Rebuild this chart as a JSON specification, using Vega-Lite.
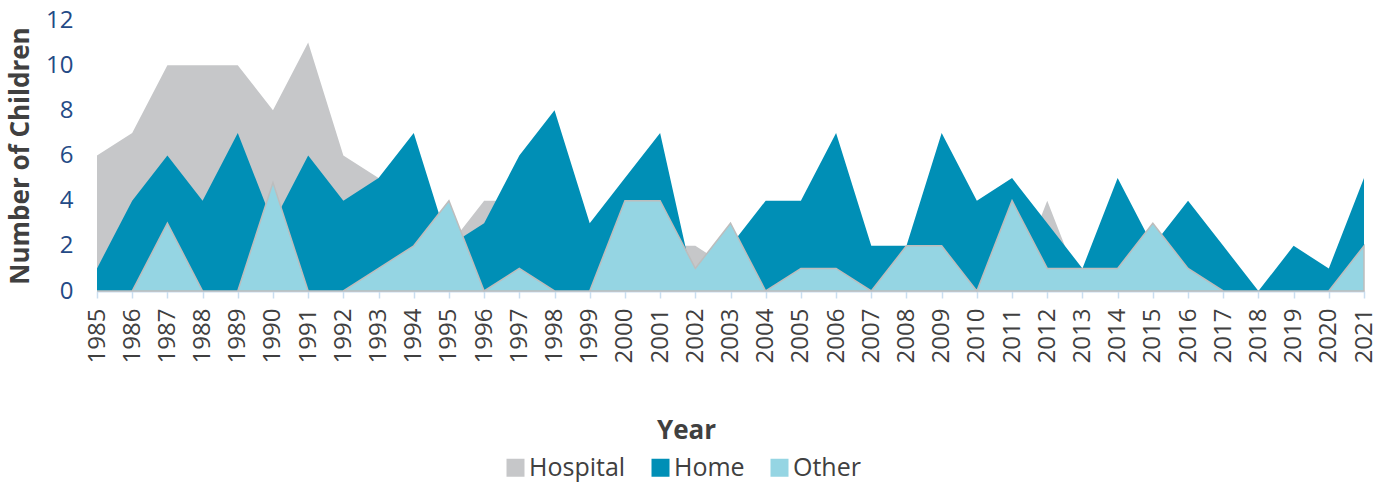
{
  "$schema": "https://vega.github.io/schema/vega-lite/v6.json",
  "autosize": {"type": "none"},
  "width": 1267,
  "height": 271,
  "padding": {"left": 97, "top": 20, "right": 28, "bottom": 193},
  "background": "white",
  "config": {
    "view": {"stroke": null},
    "font": "Open Sans"
  },
  "data": {
    "values": [
      {"year": 1985, "Hospital": 6, "Home": 1, "Other": 0},
      {"year": 1986, "Hospital": 7, "Home": 4, "Other": 0},
      {"year": 1987, "Hospital": 10, "Home": 6, "Other": 3},
      {"year": 1988, "Hospital": 10, "Home": 4, "Other": 0},
      {"year": 1989, "Hospital": 10, "Home": 7, "Other": 0},
      {"year": 1990, "Hospital": 8, "Home": 3, "Other": 4.8},
      {"year": 1991, "Hospital": 11, "Home": 6, "Other": 0},
      {"year": 1992, "Hospital": 6, "Home": 4, "Other": 0},
      {"year": 1993, "Hospital": 5, "Home": 5, "Other": 1},
      {"year": 1994, "Hospital": 3, "Home": 7, "Other": 2},
      {"year": 1995, "Hospital": 2, "Home": 2, "Other": 4},
      {"year": 1996, "Hospital": 4, "Home": 3, "Other": 0},
      {"year": 1997, "Hospital": 4, "Home": 6, "Other": 1},
      {"year": 1998, "Hospital": 3, "Home": 8, "Other": 0},
      {"year": 1999, "Hospital": 2, "Home": 3, "Other": 0},
      {"year": 2000, "Hospital": 2, "Home": 5, "Other": 4},
      {"year": 2001, "Hospital": 2, "Home": 7, "Other": 4},
      {"year": 2002, "Hospital": 2, "Home": 0, "Other": 1},
      {"year": 2003, "Hospital": 1, "Home": 2, "Other": 3},
      {"year": 2004, "Hospital": 1, "Home": 4, "Other": 0},
      {"year": 2005, "Hospital": 1, "Home": 4, "Other": 1},
      {"year": 2006, "Hospital": 1, "Home": 7, "Other": 1},
      {"year": 2007, "Hospital": 1, "Home": 2, "Other": 0},
      {"year": 2008, "Hospital": 1, "Home": 2, "Other": 2},
      {"year": 2009, "Hospital": 1, "Home": 7, "Other": 2},
      {"year": 2010, "Hospital": 1, "Home": 4, "Other": 0},
      {"year": 2011, "Hospital": 0, "Home": 5, "Other": 4},
      {"year": 2012, "Hospital": 4, "Home": 3, "Other": 1},
      {"year": 2013, "Hospital": 0, "Home": 1, "Other": 1},
      {"year": 2014, "Hospital": 1, "Home": 5, "Other": 1},
      {"year": 2015, "Hospital": 1, "Home": 2, "Other": 3},
      {"year": 2016, "Hospital": 1, "Home": 4, "Other": 1},
      {"year": 2017, "Hospital": 0, "Home": 2, "Other": 0},
      {"year": 2018, "Hospital": 0, "Home": 0, "Other": 0},
      {"year": 2019, "Hospital": 1, "Home": 2, "Other": 0},
      {"year": 2020, "Hospital": 0, "Home": 1, "Other": 0},
      {"year": 2021, "Hospital": 1, "Home": 5, "Other": 2}
    ]
  },
  "encoding": {
    "x": {
      "field": "year",
      "type": "quantitative",
      "scale": {"domain": [1985, 2021], "nice": false, "zero": false},
      "axis": {
        "title": "Year",
        "values": [1985,1986,1987,1988,1989,1990,1991,1992,1993,1994,1995,1996,1997,1998,1999,2000,2001,2002,2003,2004,2005,2006,2007,2008,2009,2010,2011,2012,2013,2014,2015,2016,2017,2018,2019,2020,2021],
        "format": "d",
        "labelAngle": -90,
        "labelFontSize": 24,
        "labelColor": "#404040",
        "labelPadding": 10,
        "labelFlush": false,
        "labelOverlap": false,
        "grid": false,
        "domainColor": "#c9def0",
        "domainWidth": 2,
        "tickColor": "#c9def0",
        "tickWidth": 1.5,
        "tickSize": 7,
        "titleFontSize": 26,
        "titleFontWeight": "bold",
        "titleColor": "#404040",
        "titleX": 589,
        "titleY": 139,
        "titleAlign": "center",
        "titleBaseline": "middle"
      }
    }
  },
  "layer": [
    {
      "mark": {"type": "area", "opacity": 1},
      "encoding": {
        "y": {
          "field": "Hospital",
          "type": "quantitative",
          "scale": {"domain": [0, 12], "nice": false},
          "axis": {
            "title": "Number of Children",
            "values": [0, 2, 4, 6, 8, 10, 12],
            "grid": false,
            "domain": false,
            "ticks": false,
            "labelFontSize": 24,
            "labelColor": "#234a86",
            "labelPadding": 24,
            "titleFontSize": 26,
            "titleFontWeight": "bold",
            "titleColor": "#404040",
            "titlePadding": 12
          }
        },
        "color": {
          "datum": "Hospital",
          "type": "nominal",
          "scale": {"domain": ["Hospital", "Home", "Other"], "range": ["#c6c7c9", "#008fb6", "#95d5e3"]},
          "legend": {
            "title": null,
            "orient": "none",
            "direction": "horizontal",
            "legendX": 406,
            "legendY": 435,
            "symbolType": "square",
            "symbolSize": 324,
            "symbolStrokeWidth": 0,
            "labelFontSize": 25,
            "labelColor": "#404040",
            "labelOffset": 1,
            "columnPadding": 22
          }
        }
      }
    },
    {
      "mark": {"type": "area", "opacity": 1},
      "encoding": {
        "y": {"field": "Home", "type": "quantitative"},
        "color": {"datum": "Home", "type": "nominal"}
      }
    },
    {
      "mark": {"type": "area", "opacity": 1, "stroke": "#bdbdbd", "strokeWidth": 1.5},
      "encoding": {
        "y": {"field": "Other", "type": "quantitative"},
        "color": {"datum": "Other", "type": "nominal"}
      }
    }
  ]
}
